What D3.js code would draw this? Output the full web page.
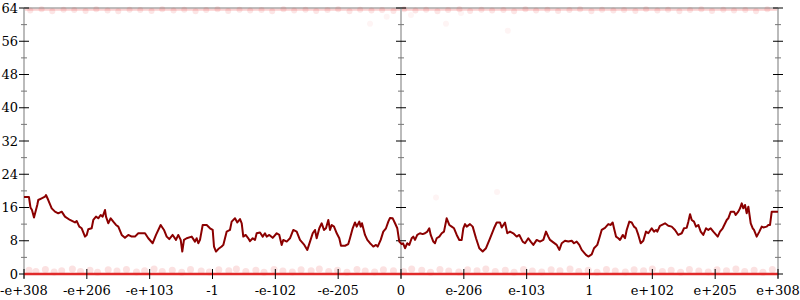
<!DOCTYPE html>
<html><head><meta charset="utf-8">
<script src="https://cdn.jsdelivr.net/npm/d3@7"></script>
<style>body{margin:0;background:#fff}svg{display:block}text{font-family:"DejaVu Serif",serif;font-size:13px;fill:#000}</style>
</head><body><svg id="c" width="800" height="300"></svg>
<script>
const xTickValues = [-6,-5,-4,-3,-2,-1,0,1,2,3,4,5,6];
const xTickLabels = ["-e+308","-e+206","-e+103","-1","-e-102","-e-205","0","e-206","e-103","1","e+102","e+205","e+308"];
const yMajorTicks = [0,8,16,24,32,40,48,56,64];
const yMinorTicks = [4,12,20,28,36,44,52,60];
const lineX = [-6.0,-5.921,-5.897,-5.873,-5.841,-5.789,-5.773,-5.719,-5.666,-5.650,-5.614,-5.559,-5.507,-5.455,-5.400,-5.348,-5.268,-5.189,-5.162,-5.120,-5.082,-5.029,-5.002,-4.977,-4.923,-4.897,-4.854,-4.818,-4.780,-4.748,-4.711,-4.695,-4.659,-4.620,-4.579,-4.536,-4.499,-4.445,-4.393,-4.340,-4.286,-4.234,-4.181,-4.074,-4.022,-3.952,-3.899,-3.825,-3.772,-3.729,-3.688,-3.634,-3.581,-3.545,-3.506,-3.481,-3.454,-3.411,-3.331,-3.279,-3.252,-3.226,-3.199,-3.156,-3.092,-3.040,-2.997,-2.976,-2.944,-2.908,-2.854,-2.828,-2.801,-2.774,-2.722,-2.695,-2.642,-2.605,-2.562,-2.535,-2.510,-2.472,-2.430,-2.403,-2.360,-2.324,-2.297,-2.244,-2.201,-2.165,-2.138,-2.096,-2.042,-1.978,-1.937,-1.899,-1.873,-1.819,-1.767,-1.714,-1.660,-1.608,-1.539,-1.491,-1.448,-1.405,-1.369,-1.342,-1.300,-1.262,-1.226,-1.194,-1.157,-1.130,-1.103,-1.066,-1.023,-0.982,-0.955,-0.891,-0.839,-0.812,-0.769,-0.732,-0.705,-0.664,-0.641,-0.621,-0.573,-0.536,-0.493,-0.466,-0.441,-0.398,-0.371,-0.323,-0.282,-0.239,-0.202,-0.175,-0.132,-0.095,-0.059,-0.027,0.011,0.032,0.064,0.100,0.132,0.170,0.196,0.223,0.259,0.302,0.345,0.382,0.419,0.450,0.473,0.514,0.541,0.568,0.610,0.648,0.684,0.727,0.769,0.807,0.844,0.887,0.928,0.966,0.992,1.019,1.046,1.098,1.141,1.194,1.246,1.300,1.353,1.417,1.480,1.523,1.576,1.603,1.655,1.692,1.735,1.787,1.841,1.883,1.937,1.974,2.026,2.064,2.106,2.160,2.212,2.265,2.308,2.344,2.372,2.424,2.478,2.520,2.558,2.610,2.663,2.717,2.753,2.796,2.838,2.876,2.944,2.981,3.035,3.072,3.124,3.156,3.194,3.247,3.299,3.338,3.369,3.390,3.422,3.459,3.486,3.529,3.565,3.592,3.634,3.672,3.708,3.740,3.777,3.815,3.856,3.899,3.936,3.990,4.027,4.059,4.079,4.122,4.202,4.254,4.308,4.361,4.413,4.468,4.504,4.547,4.573,4.600,4.627,4.663,4.695,4.732,4.770,4.811,4.854,4.891,4.929,4.971,5.041,5.077,5.120,5.184,5.209,5.248,5.300,5.327,5.368,5.396,5.423,5.448,5.475,5.502,5.528,5.566,5.598,5.618,5.661,5.703,5.741,5.766,5.820,5.846,5.873,5.900,6.0];
const lineY = [18.5,18.5,16.0,15.4,13.6,16.6,17.8,18.2,18.6,19.0,17.8,15.8,15.0,14.6,15.0,13.8,13.0,12.4,12.75,11.4,11.0,9.0,9.4,10.75,11.0,13.0,13.8,13.4,14.2,13.8,15.4,13.8,12.2,13.4,12.6,11.8,11.4,9.4,8.7,9.4,9.0,9.0,9.8,9.8,8.6,7.4,9.4,11.8,10.6,9.0,8.4,9.4,8.2,9.4,8.2,5.4,8.2,8.6,9.0,7.8,8.6,7.4,8.2,11.8,11.8,11.0,10.6,6.6,5.4,6.0,6.6,7.0,8.6,10.2,10.6,12.6,13.4,12.4,13.2,12.2,9.0,9.4,8.6,7.9,8.6,8.2,9.8,10.0,9.0,9.8,9.0,9.4,8.7,9.8,9.4,7.0,8.2,7.8,8.6,10.6,10.2,8.2,7.0,5.8,7.8,9.8,10.6,8.6,11.0,12.2,10.6,11.0,13.0,10.6,11.8,11.4,9.8,8.6,6.8,6.8,7.2,8.6,11.0,12.4,11.4,12.6,11.4,12.2,9.4,8.2,7.4,7.0,6.6,7.0,6.6,8.2,10.2,11.0,12.6,13.5,13.4,12.2,11.0,7.8,7.2,7.4,6.2,7.4,7.0,8.6,9.0,8.2,9.4,9.8,9.6,9.8,10.2,11.0,9.4,7.8,7.4,8.6,9.0,9.8,10.2,13.4,11.8,11.4,11.0,9.4,8.2,8.2,11.0,12.0,11.4,12.0,11.4,8.6,6.2,5.4,6.2,8.6,11.0,12.4,12.4,11.2,12.4,9.8,10.2,9.8,9.0,9.4,7.8,7.4,8.6,7.8,7.0,8.2,7.8,8.2,10.2,9.0,8.2,7.6,7.0,5.8,7.4,8.0,7.8,8.0,7.4,7.8,7.0,5.8,4.6,4.2,4.7,6.2,7.0,8.6,10.6,11.1,12.0,11.8,12.4,11.0,9.0,8.6,8.2,9.4,8.6,10.6,12.6,12.4,11.4,11.0,9.4,7.4,8.0,10.2,9.8,11.0,10.2,10.6,10.2,11.6,12.2,11.6,11.4,10.6,9.4,9.8,11.0,11.1,12.6,14.4,13.0,12.6,11.4,11.8,10.2,9.4,11.0,10.6,11.0,10.2,9.0,10.2,11.0,13.0,13.4,15.0,15.0,14.2,15.0,15.8,17.0,15.8,16.6,14.6,16.2,12.2,11.0,10.6,9.0,10.2,11.4,11.2,11.4,11.8,11.8,15.0,15.0];
const lowDotsX = [-5.92,-5.81,-5.66,-5.52,-5.4,-5.23,-5.1,-4.95,-4.83,-4.66,-4.52,-4.37,-4.21,-4.08,-3.93,-3.8,-3.64,-3.49,-3.35,-3.18,-3.05,-2.9,-2.74,-2.62,-2.47,-2.31,-2.18,-2.02,-1.88,-1.73,-1.59,-1.43,-1.3,-1.15,-1.01,-0.86,-0.7,-0.57,-0.42,-0.28,-0.12,0.04,0.17,0.33,0.47,0.62,0.76,0.92,1.06,1.21,1.35,1.5,1.66,1.8,1.95,2.09,2.24,2.39,2.53,2.69,2.83,2.98,3.12,3.27,3.41,3.57,3.71,3.86,4.0,4.16,4.3,4.45,4.59,4.74,4.89,5.03,5.18,5.33,5.47,5.62,5.76,5.91];
const lowDotsY = [0.9,0.6,1.1,0.5,0.8,1.2,0.6,0.9,0.4,1.0,0.7,1.1,0.5,0.8,1.2,0.6,0.9,0.4,1.1,0.7,0.5,1.0,0.8,1.2,0.6,0.9,0.4,1.1,0.7,0.5,1.0,0.8,1.2,0.6,0.9,0.4,1.1,0.7,0.5,1.0,0.8,0.6,1.2,0.9,0.4,1.1,0.7,0.5,1.0,0.8,1.2,0.6,0.9,0.4,1.1,0.7,0.5,1.0,0.8,1.2,0.6,0.9,0.4,1.1,0.7,0.5,1.0,0.8,1.2,0.6,0.9,0.4,1.1,0.7,0.5,1.0,0.8,1.2,0.6,0.9,0.4,1.1];
const highDotsX = [-5.9,-5.72,-5.55,-5.37,-5.2,-5.02,-4.85,-4.67,-4.5,-4.32,-4.15,-3.97,-3.8,-3.62,-3.45,-3.27,-3.1,-2.92,-2.75,-2.57,-2.4,-2.22,-2.05,-1.87,-1.7,-1.52,-1.35,-1.17,-1.0,-0.82,-0.65,-0.47,-0.3,-0.12,0.05,0.23,0.4,0.58,0.75,0.93,1.1,1.28,1.45,1.63,1.8,1.98,2.15,2.33,2.5,2.68,2.85,3.03,3.2,3.38,3.55,3.73,3.9,4.08,4.25,4.43,4.6,4.78,4.95,5.13,5.3,5.48,5.65,5.83];
const highDotsY = [63.4,63.7,63.2,63.6,63.5,63.3,63.7,63.4,63.2,63.6,63.5,63.3,63.7,63.4,63.6,63.2,63.5,63.7,63.3,63.6,63.4,63.5,63.2,63.7,63.4,63.6,63.3,63.5,63.7,63.2,63.6,63.4,63.5,63.3,63.7,63.4,63.6,63.2,63.5,63.7,63.3,63.6,63.4,63.5,63.2,63.7,63.4,63.6,63.3,63.5,63.7,63.2,63.6,63.4,63.5,63.3,63.7,63.4,63.6,63.2,63.5,63.7,63.3,63.6,63.4,63.5,63.2,63.7];
const strayDotsX = [-0.493,-0.228,0.159,0.716,0.557,1.528,1.70,0.955];
const strayDotsY = [60.2,61.9,62.3,60.2,18.4,19.7,58.5,62.8];

const svg = d3.select("#c");
const x = d3.scaleLinear().domain([-6,6]).range([24,778]);
const y = d3.scaleLinear().domain([0,64]).range([274,8]);

// frame
svg.append("line").attr("x1",x(-6)).attr("x2",x(6)).attr("y1",y(64)).attr("y2",y(64)).attr("stroke","#aaa").attr("stroke-width",1.5);

// dots
const dotG = svg.append("g");
dotG.selectAll("circle.lo").data(lowDotsX).join("circle").attr("class","lo")
  .attr("cx",d=>x(d)).attr("cy",(d,i)=>y(lowDotsY[i])).attr("r",3.5).attr("fill","rgba(230,40,40,0.14)");
dotG.selectAll("circle.hi").data(highDotsX).join("circle").attr("class","hi")
  .attr("cx",d=>x(d)).attr("cy",(d,i)=>y(highDotsY[i])).attr("r",3).attr("fill","rgba(230,40,40,0.12)");
dotG.selectAll("circle.st").data(strayDotsX).join("circle").attr("class","st")
  .attr("cx",d=>x(d)).attr("cy",(d,i)=>y(strayDotsY[i])).attr("r",3).attr("fill","rgba(230,40,40,0.05)");

// top faint red line
svg.append("line").attr("x1",x(-6)).attr("x2",x(6)).attr("y1",y(63.6)).attr("y2",y(63.6)).attr("stroke","rgba(230,40,40,0.22)").attr("stroke-width",2);

// y axes (left, center, right)
function yAxis(pos){
  const g = svg.append("g").attr("transform",`translate(${x(pos)},0)`);
  g.append("line").attr("y1",y(64)).attr("y2",y(0)+4).attr("stroke","#bbb").attr("stroke-width",2);
  g.selectAll("line.min").data(yMinorTicks).join("line").attr("class","min")
    .attr("x1",-3).attr("x2",3).attr("y1",d=>y(d)).attr("y2",d=>y(d)).attr("stroke","#777").attr("stroke-width",1);
  g.selectAll("line.maj").data(yMajorTicks).join("line").attr("class","maj")
    .attr("x1",-5).attr("x2",5).attr("y1",d=>y(d)).attr("y2",d=>y(d)).attr("stroke","#000").attr("stroke-width",1);
  return g;
}
const left = yAxis(-6);
left.selectAll("text").data(yMajorTicks).join("text")
  .attr("x",-6).attr("y",d=>y(d)).attr("dy","0.35em").attr("text-anchor","end").text(d=>d);
yAxis(0);
yAxis(6);

// bottom red line (value 0)
svg.append("line").attr("x1",x(-6)).attr("x2",x(6)).attr("y1",y(0)).attr("y2",y(0)).attr("stroke","#e02a2a").attr("stroke-width",2.5);

// x ticks
const xg = svg.append("g");
xg.selectAll("line").data(xTickValues).join("line")
  .attr("x1",d=>x(d)).attr("x2",d=>x(d)).attr("y1",y(0)-5).attr("y2",y(0)+5).attr("stroke","#000").attr("stroke-width",1);
xg.selectAll("text").data(xTickValues).join("text")
  .attr("x",d=>x(d)).attr("y",295).attr("text-anchor","middle").text((d,i)=>xTickLabels[i]);

// main line
svg.append("path").datum(lineX.map((d,i)=>[d,lineY[i]]))
  .attr("d",d3.line().x(d=>x(d[0])).y(d=>y(d[1])))
  .attr("fill","none").attr("stroke","#8b0000").attr("stroke-width",2).attr("stroke-linejoin","round");
</script></body></html>
